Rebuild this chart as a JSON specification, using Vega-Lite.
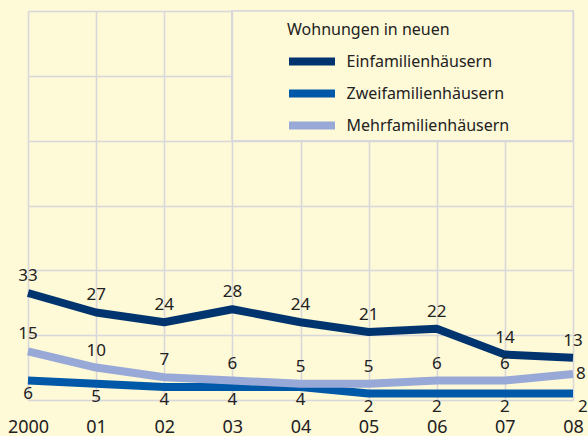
{
  "$schema": "https://vega.github.io/schema/vega-lite/v6.json",
  "width": 545,
  "height": 389,
  "autosize": {"type": "none"},
  "padding": {"left": 28, "top": 11, "right": 15, "bottom": 36},
  "background": "#fef9d7",
  "config": {
    "view": {"stroke": null},
    "font": "Noto Sans",
    "axis": {"gridColor": "#d7d7dc", "gridWidth": 1.5, "gridOpacity": 1}
  },
  "data": {
    "values": [
      {"year": 2000, "series": "Einfamilienhäusern", "value": 33},
      {"year": 2001, "series": "Einfamilienhäusern", "value": 27},
      {"year": 2002, "series": "Einfamilienhäusern", "value": 24},
      {"year": 2003, "series": "Einfamilienhäusern", "value": 28},
      {"year": 2004, "series": "Einfamilienhäusern", "value": 24},
      {"year": 2005, "series": "Einfamilienhäusern", "value": 21},
      {"year": 2006, "series": "Einfamilienhäusern", "value": 22},
      {"year": 2007, "series": "Einfamilienhäusern", "value": 14},
      {"year": 2008, "series": "Einfamilienhäusern", "value": 13},
      {"year": 2000, "series": "Zweifamilienhäusern", "value": 6},
      {"year": 2001, "series": "Zweifamilienhäusern", "value": 5},
      {"year": 2002, "series": "Zweifamilienhäusern", "value": 4},
      {"year": 2003, "series": "Zweifamilienhäusern", "value": 4},
      {"year": 2004, "series": "Zweifamilienhäusern", "value": 4},
      {"year": 2005, "series": "Zweifamilienhäusern", "value": 2},
      {"year": 2006, "series": "Zweifamilienhäusern", "value": 2},
      {"year": 2007, "series": "Zweifamilienhäusern", "value": 2},
      {"year": 2008, "series": "Zweifamilienhäusern", "value": 2},
      {"year": 2000, "series": "Mehrfamilienhäusern", "value": 15},
      {"year": 2001, "series": "Mehrfamilienhäusern", "value": 10},
      {"year": 2002, "series": "Mehrfamilienhäusern", "value": 7},
      {"year": 2003, "series": "Mehrfamilienhäusern", "value": 6},
      {"year": 2004, "series": "Mehrfamilienhäusern", "value": 5},
      {"year": 2005, "series": "Mehrfamilienhäusern", "value": 5},
      {"year": 2006, "series": "Mehrfamilienhäusern", "value": 6},
      {"year": 2007, "series": "Mehrfamilienhäusern", "value": 6},
      {"year": 2008, "series": "Mehrfamilienhäusern", "value": 8}
    ]
  },
  "encoding": {
    "x": {
      "field": "year", "type": "quantitative",
      "scale": {"domain": [2000, 2008], "nice": false, "zero": false},
      "axis": {
        "title": null, "values": [2000, 2001, 2002, 2003, 2004, 2005, 2006, 2007, 2008],
        "labelExpr": "datum.value == 2000 ? '2000' : '0' + (datum.value - 2000)",
        "domain": false, "ticks": false, "tickSize": 0, "labelPadding": 18,
        "labelFontSize": 18, "labelColor": "#222222", "labelBaseline": "top", "labelFlush": false
      }
    },
    "y": {
      "field": "value", "type": "quantitative",
      "scale": {"domain": [0, 120], "nice": false},
      "axis": {"title": null, "values": [0, 20, 40, 60, 80, 100, 120], "labels": false, "domain": false, "ticks": false}
    }
  },
  "layer": [
    {
      "mark": {"type": "rect", "fill": "#fef9d7", "stroke": "#d7d7dc", "strokeWidth": 1.5},
      "encoding": {
        "x": {"datum": 2003, "type": "quantitative"},
        "x2": {"datum": 2008},
        "y": {"datum": 80, "type": "quantitative"},
        "y2": {"datum": 120}
      }
    },
    {
      "mark": {"type": "line", "strokeWidth": 8, "strokeCap": "butt", "strokeJoin": "round"},
      "encoding": {
        "color": {
          "field": "series", "type": "nominal",
          "scale": {
            "domain": ["Einfamilienhäusern", "Zweifamilienhäusern", "Mehrfamilienhäusern"],
            "range": ["#00346f", "#0059a8", "#98a9d7"]
          },
          "legend": {
            "title": "Wohnungen in neuen",
            "orient": "none", "legendX": 259, "legendY": 11,
            "padding": 0,
            "titleFontSize": 16, "titleFontWeight": "normal", "titleColor": "#222222", "titlePadding": 8,
            "labelFontSize": 16, "labelColor": "#222222", "labelOffset": 19, "labelLimit": 0,
            "symbolType": "M-2,0H2", "symbolSize": 529, "symbolStrokeWidth": 8, "symbolOffset": 9.5,
            "rowPadding": -1
          }
        }
      }
    },
    {
      "transform": [{"filter": "datum.series == 'Einfamilienhäusern' || (datum.series == 'Mehrfamilienhäusern' && datum.year < 2008)"}],
      "mark": {"type": "text", "fontSize": 17, "color": "#222222", "baseline": "middle", "dy": -17},
      "encoding": {"text": {"field": "value", "type": "quantitative"}}
    },
    {
      "transform": [{"filter": "datum.series == 'Zweifamilienhäusern' && datum.year < 2008"}],
      "mark": {"type": "text", "fontSize": 17, "color": "#222222", "baseline": "middle", "dy": 13},
      "encoding": {"text": {"field": "value", "type": "quantitative"}}
    },
    {
      "transform": [{"filter": "datum.series == 'Zweifamilienhäusern' && datum.year == 2008"}],
      "mark": {"type": "text", "fontSize": 17, "color": "#222222", "baseline": "middle", "align": "left", "dx": 5, "dy": 13},
      "encoding": {"text": {"field": "value", "type": "quantitative"}}
    },
    {
      "transform": [{"filter": "datum.series == 'Mehrfamilienhäusern' && datum.year == 2008"}],
      "mark": {"type": "text", "fontSize": 17, "color": "#222222", "baseline": "middle", "align": "left", "dx": 3, "dy": 0},
      "encoding": {"text": {"field": "value", "type": "quantitative"}}
    }
  ]
}
